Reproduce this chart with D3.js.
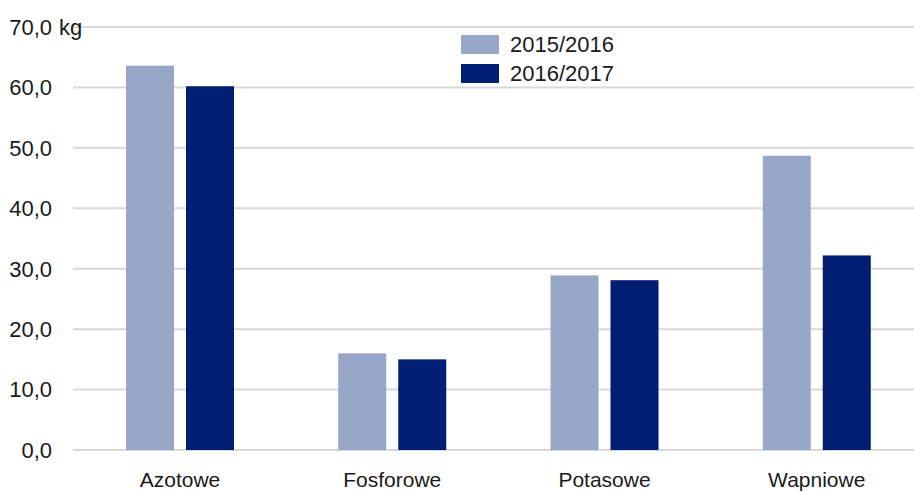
<!DOCTYPE html>
<html><head><meta charset="utf-8">
<script src="https://cdn.jsdelivr.net/npm/d3@7"></script>
<style>
html,body{margin:0;padding:0;background:#fff;}
svg{display:block;font-family:"Liberation Sans",Arial,sans-serif;}
</style></head>
<body>
<svg id="chart" width="914" height="492"></svg>
<script>
const categories = ["Azotowe", "Fosforowe", "Potasowe", "Wapniowe"];
const seriesNames = ["2015/2016", "2016/2017"];
const values2015 = [63.6, 16.0, 28.9, 48.7];
const values2016 = [60.2, 15.0, 28.1, 32.2];
const yTicks = [0, 10, 20, 30, 40, 50, 60, 70];
const colors = ["#98a6c8", "#001e73"];

const series = [values2015, values2016];
const svg = d3.select("#chart");
const mLeft = 74, mRight = 923, mTop = 27, mBottom = 450;

const y = d3.scaleLinear().domain([0, 70]).range([mBottom, mTop]);
const x0 = d3.scaleBand().domain(categories).range([mLeft, mRight]).padding(0);
const x1 = d3.scaleBand().domain(seriesNames).range([52, 160]).paddingInner(0.2).paddingOuter(0);

const fmt = v => d3.format(".1f")(v).replace(".", ",");

// gridlines
svg.append("g").selectAll("line").data(yTicks).join("line")
  .attr("x1", mLeft - 1).attr("x2", 914)
  .attr("y1", d => y(d)).attr("y2", d => y(d))
  .attr("stroke", "#d9d9d9").attr("stroke-width", 2);

// y labels
const yAxis = svg.append("g");
yAxis.selectAll("text").data(yTicks).join("text")
  .attr("x", 52).attr("y", d => y(d)).attr("dy", "0.36em")
  .attr("text-anchor", "end").attr("font-size", 22).attr("fill", "#1a1a1a")
  .text(d => fmt(d));
yAxis.append("text").attr("x", 59).attr("y", y(70)).attr("dy", "0.36em")
  .attr("font-size", 22).attr("fill", "#1a1a1a").text("kg");

// bars
const groups = svg.append("g").selectAll("g").data(categories).join("g")
  .attr("transform", d => `translate(${x0(d)},0)`);
groups.selectAll("rect").data((d, i) => seriesNames.map((s, j) => ({s, v: series[j][i], j})))
  .join("rect")
  .attr("x", d => x1(d.s)).attr("width", x1.bandwidth())
  .attr("y", d => y(d.v)).attr("height", d => y(0) - y(d.v))
  .attr("fill", d => colors[d.j]);

// x labels
svg.append("g").selectAll("text").data(categories).join("text")
  .attr("x", d => x0(d) + (x1.range()[0] + x1.range()[1]) / 2)
  .attr("y", 487).attr("text-anchor", "middle")
  .attr("font-size", 21).attr("fill", "#1a1a1a").text(d => d);

// legend
const leg = svg.append("g").selectAll("g").data(seriesNames).join("g")
  .attr("transform", (d, i) => `translate(461,${35 + i * 29})`);
leg.append("rect").attr("width", 38).attr("height", 19).attr("fill", (d, i) => colors[i]);
leg.append("text").attr("x", 49).attr("y", 9.5).attr("dy", "0.36em")
  .attr("font-size", 22).attr("fill", "#1a1a1a").text(d => d);
</script>
</body></html>
